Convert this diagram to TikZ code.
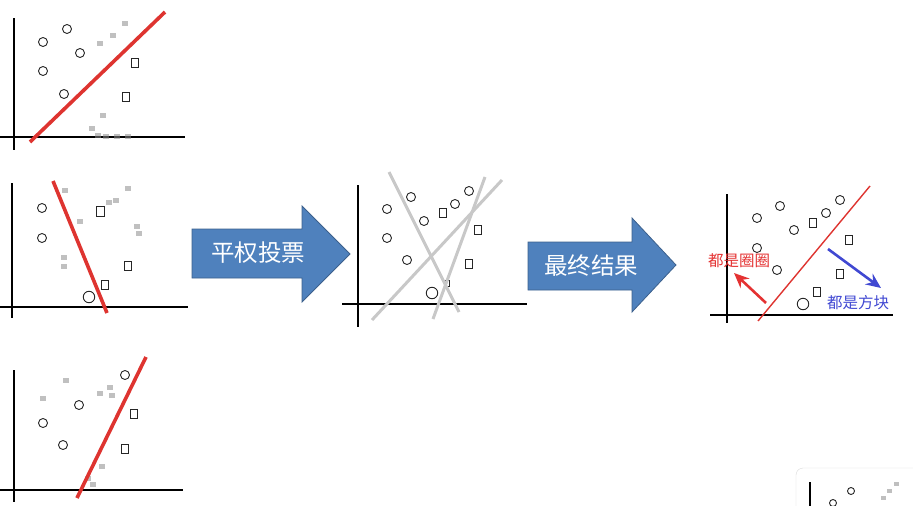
\documentclass[tikz,border=0pt]{standalone}
\usepackage{fontspec}
\newfontfamily\cjk{Noto Sans CJK SC}
\usetikzlibrary{arrows.meta}
\definecolor{voteRed}{RGB}{222,52,48}
\definecolor{lineGray}{RGB}{200,200,200}
\definecolor{arrowBlue}{RGB}{79,129,189}
\definecolor{arrowEdge}{RGB}{60,96,140}
\definecolor{labelRed}{RGB}{228,50,50}
\definecolor{labelBlue}{RGB}{64,72,210}

\begin{document}
\begin{tikzpicture}[x=1pt,y=-1pt,
  pt/.style={circle,draw=black!85,line width=0.9pt,minimum size=9pt,inner sep=0pt},
  bigpt/.style={pt,minimum size=11.5pt},
  sq/.style={rectangle,draw=black!85,line width=0.9pt,minimum width=6.5pt,minimum height=9pt,inner sep=0pt},
  blot/.style={rectangle,fill=black!45,opacity=0.55,minimum width=6pt,minimum height=5pt,inner sep=0pt},
  axis/.style={line width=1.2pt,black},
  redsplit/.style={line width=3.6pt,voteRed},
  graysplit/.style={line width=3pt,lineGray},
  bigarrow/.style={fill=arrowBlue,draw=arrowEdge,line width=0.8pt},
  arrowtext/.style={text=white,font=\cjk\fontsize{23.5}{26}\selectfont},
  note/.style={font=\cjk\fontsize{15.5}{17}\selectfont,inner sep=1pt},
  pointer/.style={line width=2.6pt,-{Stealth[length=15pt,width=13pt]}}]
\path[use as bounding box] (0,0) rectangle (913,506);
\clip (0,0) rectangle (913,506);

% Tree 1
\draw[axis] (14,18) -- (14,150);
\draw[axis] (0,137) -- (185,137);
\foreach \x/\y [count=\i] in {43/42,67/29,80/53,43/71,64/94}
  \node[pt] (a\i) at (\x,\y) {};
\foreach \x/\y [count=\i] in {135/63,126/97}
  \node[sq] (as\i) at (\x,\y) {};
\foreach \x/\y [count=\i] in {100/43,113/35,125/23,103/115,92/128,98/135,106/136,117/136,128/136}
  \node[blot] (ab\i) at (\x,\y) {};
\draw[redsplit] (30,142) -- (165,12);

% Tree 2
\draw[axis] (12,183) -- (12,318);
\draw[axis] (0,307) -- (188,307);
\node[pt] (b1) at (42,208) {};
\node[pt] (b2) at (42,238) {};
\node[bigpt] (b3) at (89,297) {};
\foreach \x/\y [count=\i] in {128/266,105/285}
  \node[sq] (bs\i) at (\x,\y) {};
\node[sq,minimum width=8pt,minimum height=10pt] (bs3) at (100,211) {};
\foreach \x/\y [count=\i] in {65/190,80/221,64/257,64/266,128/188,109/202,116/200,137/226,139/233}
  \node[blot] (bb\i) at (\x,\y) {};
\draw[redsplit] (53,181) -- (107,313);

% Tree 3
\draw[axis] (14,370) -- (14,502);
\draw[axis] (0,490) -- (183,490);
\foreach \x/\y [count=\i] in {125/375,79/405,43/423,63/445}
  \node[pt] (c\i) at (\x,\y) {};
\foreach \x/\y [count=\i] in {134/414,125/449}
  \node[sq] (cs\i) at (\x,\y) {};
\foreach \x/\y [count=\i] in {66/380,43/398,100/393,110/387,112/395,102/466,88/478,93/484}
  \node[blot] (cb\i) at (\x,\y) {};
\draw[redsplit] (77,498) -- (146,357);

% Arrow 1
\draw[bigarrow] (192,229) -- (302,229) -- (302,206) -- (350,254) -- (302,302) -- (302,278) -- (192,278) -- cycle;
\node[arrowtext] (vote) at (258,253) {平权投票};

% Combined trees
\draw[axis] (358,185) -- (358,327);
\draw[axis] (342,304) -- (527,304);
\foreach \x/\y [count=\i] in {387/209,411/197,424/221,387/238,407/260,455/204,469/191}
  \node[pt] (d\i) at (\x,\y) {};
\node[bigpt] (d8) at (432,293) {};
\foreach \x/\y [count=\i] in {443/213,478/230,469/264}
  \node[sq] (ds\i) at (\x,\y) {};
\node[sq,minimum width=4pt,minimum height=6pt] (ds4) at (447,283) {};
\draw[graysplit] (389,172) -- (459,312);
\draw[graysplit] (372,320) -- (502,180);
\draw[graysplit] (433,319) -- (485,177);

% Arrow 2
\draw[bigarrow] (528,242) -- (632,242) -- (632,218) -- (676,265) -- (632,312) -- (632,290) -- (528,290) -- cycle;
\node[arrowtext] (final) at (591,266) {最终结果};

% Final result
\draw[axis] (727,194) -- (727,323);
\draw[axis] (710,315) -- (893,315);
\foreach \x/\y [count=\i] in {757/218,780/206,794/230,757/248,777/270,826/213,840/200}
  \node[pt] (e\i) at (\x,\y) {};
\node[bigpt] (e8) at (803,304) {};
\foreach \x/\y [count=\i] in {813/223,849/240,840/274,817/292}
  \node[sq] (es\i) at (\x,\y) {};
\draw[voteRed,line width=1.4pt] (758,321) -- (870,186);
\node[note,text=labelRed] (circ) at (739,261) {都是圈圈};
\node[note,text=labelBlue] (box) at (858,303) {都是方块};
\coordinate (rs) at (766,303);
\coordinate (rt) at (734,273);
\coordinate (bs) at (828,249);
\coordinate (bt) at (881,288);
\draw[pointer,labelRed] (rs) -- (rt);
\draw[pointer,labelBlue] (bs) -- (bt);

% Next picture, cut off
\fill[black!12] (799,471) rectangle (925,520);
\draw[black!15,fill=white,rounded corners=7pt] (796,468) rectangle (925,520);
\draw[axis] (810,482) -- (810,506);
\node[pt,minimum size=7pt] (f1) at (851,491) {};
\node[pt,minimum size=7pt] (f2) at (833,503) {};
\node[blot,minimum width=5pt,minimum height=4pt] (fb1) at (896,484) {};
\node[blot,minimum width=5pt,minimum height=4pt] (fb2) at (889,491) {};
\node[blot,minimum width=5pt,minimum height=4pt] (fb3) at (883,498) {};
\end{tikzpicture}
\end{document}
